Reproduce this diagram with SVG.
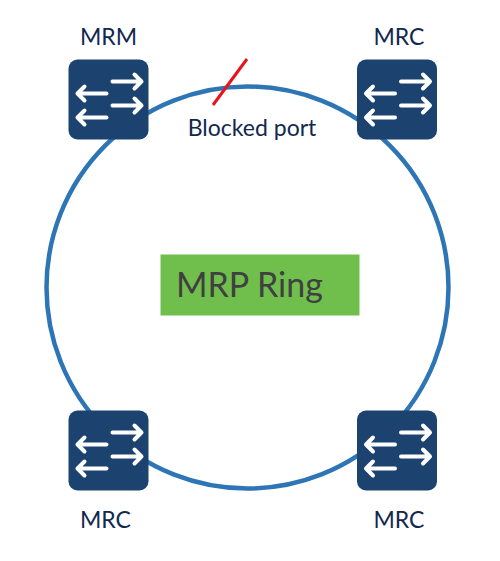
<svg xmlns="http://www.w3.org/2000/svg" width="500" height="561" viewBox="0 0 500 561">
<style>
.lbl{font-family:"Lato","Open Sans",sans-serif;font-size:23px;fill:#12284f;text-anchor:middle}
.box{fill:#1c4370}
.a{fill:none;stroke:#fff;stroke-width:4;stroke-linecap:round;stroke-linejoin:round}
</style>
<defs>
<g id="sw">
<rect class="box" x="0" y="0" width="80" height="80" rx="9"/>
<path class="a" d="M44 22H73M66 15L73 22L66 29"/>
<path class="a" d="M38 34H9M16 27L9 34L16 41"/>
<path class="a" d="M44 46H73M66 39L73 46L66 53"/>
<path class="a" d="M38 58H9M16 51L9 58L16 65"/>
</g>
</defs>
<rect width="500" height="561" fill="#fff"/>
<g id="connectors">
<circle cx="247.5" cy="287.5" r="201" fill="none" stroke="#2e75b6" stroke-width="4.5"/>
<line x1="213" y1="105" x2="247" y2="59" stroke="#e8141c" stroke-width="3"/>
</g>
<g id="mrm"><use href="#sw" x="68.500" y="59.500"/><text class="lbl" x="108.500" y="45">MRM</text></g>
<g id="mrc-tr"><use href="#sw" x="357" y="59.500"/><text class="lbl" x="399" y="45">MRC</text></g>
<g id="mrc-bl"><use href="#sw" x="68.500" y="410.500"/><text class="lbl" x="105.500" y="528">MRC</text></g>
<g id="mrc-br"><use href="#sw" x="357" y="410.500"/><text class="lbl" x="399" y="528">MRC</text></g>
<g id="blocked"><text class="lbl" x="252" y="136">Blocked port</text></g>
<g id="ring-label">
<rect x="160.500" y="254.500" width="199" height="61" fill="#70bf4c"/>
<text x="176" y="297" font-family="Lato,'Open Sans',sans-serif" font-size="34" fill="#404040">MRP Ring</text>
</g>
</svg>
